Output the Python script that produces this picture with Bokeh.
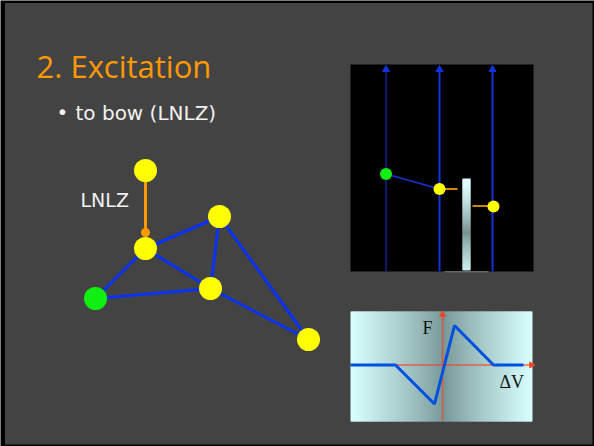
import numpy as np
from bokeh.plotting import figure
from bokeh.models import Range1d
from bokeh.core.properties import value
from bokeh.embed import file_html
from bokeh.resources import INLINE

# ---------------- data (slide pixel coordinates) ----------------
title_text = ["2. Excitation"]
bullet_text = ["to bow (LNLZ)"]
label_text = ["LNLZ"]

# network of masses
node_x = [145, 145, 219, 210, 95, 308]
node_y = [170, 248, 216, 288, 298, 339]
node_col = ["#FFFF00", "#FFFF00", "#FFFF00", "#FFFF00", "#11EE11", "#FFFF00"]
edge_a = [1, 1, 1, 4, 2, 2, 3]
edge_b = [2, 4, 3, 3, 3, 5, 5]
lnlz_x = [145, 145]
lnlz_y = [170, 232]

# string view panel
string_x = [385.5, 439, 492]
string_w = [1, 2, 2]
mass_x = [385.5, 439, 493]
mass_y = [173.5, 188.5, 206]
mass_col = ["#11EE11", "#FFFF00", "#FFFF00"]
stub1_x = [439, 457]
stub1_y = [188.5, 188.5]
stub2_x = [472, 493]
stub2_y = [205.5, 205.5]

# friction curve F(dV)
dv = [350, 395, 434, 454, 493, 523]
force = [364.5, 364.5, 403.5, 325, 364.5, 364.5]

# ---------------- figure ----------------
BG = "#434343"
p = figure(width=594, height=446, output_backend="svg", toolbar_location=None,
           x_range=Range1d(0, 594), y_range=Range1d(446, 0),
           x_axis_type=None, y_axis_type=None, min_border=0)
p.background_fill_color = "#000000"
p.border_fill_color = "#000000"
p.outline_line_color = None
p.grid.visible = False

# slide
p.quad(left=[4.5], right=[592], top=[2.5], bottom=[444], fill_color=BG, line_color=None)

# title and bullet
p.text(x=[36], y=[65], text=title_text, text_font=value("Open Sans"),
       text_font_size="31px", text_color="#FF9900", text_baseline="alphabetic")
p.text(x=[56], y=[111], text=["\u2022"], text_font=value("DejaVu Sans"),
       text_font_size="20px", text_color="#F2F2F2", text_baseline="alphabetic")
p.text(x=[75], y=[112], text=bullet_text, text_font=value("DejaVu Sans"),
       text_font_size="20px", text_color="#F2F2F2", text_baseline="alphabetic")

# network
p.segment(x0=[node_x[i] for i in edge_a], y0=[node_y[i] for i in edge_a],
          x1=[node_x[i] for i in edge_b], y1=[node_y[i] for i in edge_b],
          line_color="#0A32F0", line_width=3)
p.line(lnlz_x, lnlz_y, line_color="#FF9900", line_width=3)
p.scatter(x=[lnlz_x[1]], y=[lnlz_y[1]], size=9, fill_color="#FF9900", line_color=None)
p.scatter(x=node_x, y=node_y, size=23, fill_color=node_col, line_color=None)
p.text(x=[80], y=[199.5], text=label_text, text_font=value("DejaVu Sans"),
       text_font_size="19px", text_color="#F2F2F2", text_baseline="alphabetic")

def lerp(c0, c1, t):
    return tuple(int(round(a + (b - a) * t)) for a, b in zip(c0, c1))

def hexc(c):
    return "#%02x%02x%02x" % c

# ---- string panel ----
BLUE = "#1432DC"
p.quad(left=[350], right=[533], top=[64], bottom=[271], fill_color="#000000", line_color=None)
p.quad(left=[444], right=[488], top=[270.5], bottom=[272], fill_color="#666666", line_color=None)
p.segment(x0=string_x, y0=[271] * 3, x1=string_x, y1=[69] * 3,
          line_color=BLUE, line_width=string_w)
p.scatter(x=string_x, y=[69] * 3, marker="triangle", size=7,
          fill_color=BLUE, line_color=BLUE)
p.line(mass_x[:2], mass_y[:2], line_color=BLUE, line_width=1.5)
p.line(stub1_x, stub1_y, line_color="#CC8800", line_width=2)
p.line(stub2_x, stub2_y, line_color="#CC8800", line_width=2)

# bow (vertical gradient)
bow_top, bow_mid, bow_bot = 178, 232, 270
ys = np.arange(bow_top, bow_bot - 1, 1.0)
cols = []
for yv in ys:
    if yv < bow_mid:
        t = ((yv - bow_top) / (bow_mid - bow_top)) ** 1.4
        c = lerp((226, 255, 255), (120, 145, 145), t)
    else:
        t = ((yv - bow_mid) / (bow_bot - bow_mid)) ** 0.8
        c = lerp((120, 145, 145), (205, 240, 240), t)
    cols.append(hexc(c))
p.quad(left=462, right=470, top=ys, bottom=ys + 2, fill_color=cols, line_color=None)

p.scatter(x=mass_x, y=mass_y, size=12, fill_color=mass_col, line_color=None)

# ---- friction panel (horizontal gradient) ----
pl, pr, pt, pb, pc = 350, 532, 311, 421, 443
xs = np.arange(pl, pr - 1, 1.0)
hcols = []
for xv in xs:
    d = (pc - xv) / (pc - pl) if xv < pc else (xv - pc) / (pr - pc)
    c = lerp((118, 150, 150), (216, 255, 255), d ** 0.85)
    hcols.append(hexc(c))
p.quad(left=xs, right=xs + 2, top=pt, bottom=pb, fill_color=hcols, line_color=None)

RED = "#F04828"
p.segment(x0=[442, 350], y0=[420, 364.5], x1=[442, 531], y1=[314, 364.5],
          line_color=RED, line_width=1.5, line_alpha=0.8)
p.scatter(x=[442, 531], y=[314, 364.5], marker="triangle", angle=[0, -np.pi / 2],
          size=6, fill_color=RED, line_color=RED)
p.line(dv, force, line_color="#0050E0", line_width=3)
p.text(x=[422], y=[327], text=["F"], text_font=value("Liberation Serif"),
       text_font_size="18px", text_color="#111111", text_baseline="alphabetic")
p.text(x=[499], y=[381], text=["\u0394V"], text_font=value("Liberation Serif"),
       text_font_size="18px", text_color="#111111", text_baseline="alphabetic")

open("out.html", "w").write(file_html(p, INLINE))
